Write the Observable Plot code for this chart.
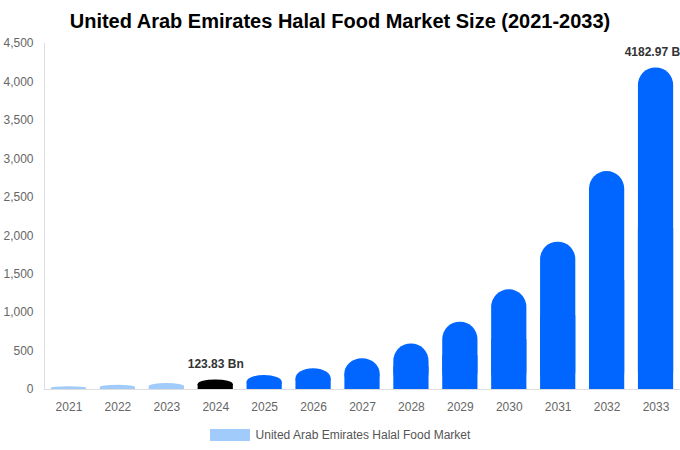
<!DOCTYPE html>
<html>
<head>
<meta charset="utf-8">
<script src="https://cdn.jsdelivr.net/npm/d3@7"></script>
<script src="https://cdn.jsdelivr.net/npm/@observablehq/plot@0.6"></script>
<style>
  body { margin: 0; background: #fff; font-family: "Liberation Sans", Arial, sans-serif; width: 680px; height: 450px; overflow: hidden; }
  #title { height: 33px; line-height: 42px; text-align: center; font-weight: bold; font-size: 20px; color: #000; overflow: visible; position: relative; z-index: 1; }
  #legend { height: 30px; display: flex; justify-content: center; align-items: center; font-size: 12px; color: #555; }
  #legend .sw { width: 40px; height: 12px; background: #a0cbfb; margin-right: 6px; }
  svg { display: block; }
</style>
</head>
<body>
<div id="title">United Arab Emirates Halal Food Market Size (2021-2033)</div>
<div id="chart"></div>
<div id="legend"><div class="sw"></div><span>United Arab Emirates Halal Food Market</span></div>
<script>
const years = ["2021","2022","2023","2024","2025","2026","2027","2028","2029","2030","2031","2032","2033"];
const values = [36, 54, 78, 123.83, 183, 271, 400, 592, 876, 1296, 1916, 2834, 4182.97];
const kinds = ["hist","hist","hist","base","fore","fore","fore","fore","fore","fore","fore","fore","fore"];
const labelYears = ["2024", "2033"];
const labelTexts = ["123.83 Bn", "4182.97 Bn"];
const yTicks = [0, 500, 1000, 1500, 2000, 2500, 3000, 3500, 4000, 4500];

const data = years.map((y, i) => ({year: y, value: values[i], kind: kinds[i]}));
const labels = labelYears.map((y, i) => ({year: y, value: values[years.indexOf(y)], text: labelTexts[i]}));

const colorScale = {domain: ["hist", "base", "fore"], range: ["#a0cbfb", "#000000", "#0066ff"]};

const chart = Plot.plot({
  width: 680,
  height: 387,
  marginLeft: 44,
  marginRight: 0,
  marginTop: 10,
  marginBottom: 31,
  style: {fontFamily: "'Liberation Sans', Arial, sans-serif", fontSize: "12px", color: "#666"},
  x: {domain: years, paddingInner: 0.28, paddingOuter: 0.14, round: false, label: null},
  y: {domain: [0, 4500], label: null},
  color: colorScale,
  marks: [
    Plot.ruleY([0], {stroke: "#ddd"}),
    Plot.frame({anchor: "left", stroke: "#ddd"}),
    Plot.barY(data, {x: "year", y: "value", fill: "kind", rx: 17.5}),
    Plot.barY(data, {x: "year", y1: 0, y2: d => d.value / 2, fill: "kind"}),
    Plot.text(labels, {x: "year", y: "value", text: "text", dy: -16, fontWeight: "bold", fill: "#333", fontSize: 12}),
    Plot.axisY({ticks: yTicks, tickSize: 0, tickPadding: 11, tickFormat: d3.format(","), fill: "#666"}),
    Plot.axisX({tickSize: 0, tickPadding: 13, fill: "#666"})
  ]
});
document.getElementById("chart").appendChild(chart);
</script>
</body>
</html>
